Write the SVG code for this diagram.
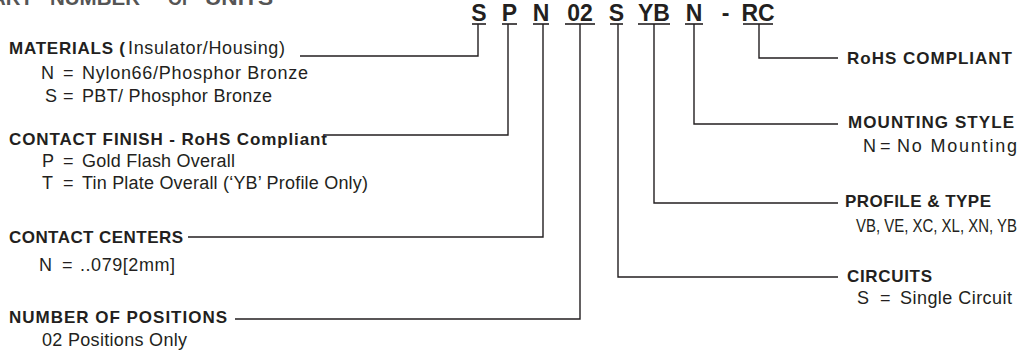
<svg xmlns="http://www.w3.org/2000/svg" width="1029" height="358" viewBox="0 0 1029 358">
<style>
text{font-family:"Liberation Sans",Arial,sans-serif;fill:#231f20}
.h{font-weight:bold;font-size:17px}
.r{font-size:18px}
.code{font-weight:bold;font-size:23px;text-anchor:middle}
.ln{stroke:#231f20;stroke-width:1.4;fill:none}
.ul{stroke:#231f20;stroke-width:1.6}
.t{font-weight:bold;font-size:20px;fill:#555}
</style>
<rect width="1029" height="358" fill="#ffffff"/>
<g id="title">
<text class="t" y="5"><tspan x="-21" textLength="54" lengthAdjust="spacingAndGlyphs">PART</tspan><tspan x="50" textLength="90" lengthAdjust="spacingAndGlyphs">NUMBER</tspan><tspan x="168" textLength="25" lengthAdjust="spacingAndGlyphs">OF</tspan><tspan x="205" textLength="68" lengthAdjust="spacingAndGlyphs">UNITS</tspan></text>
</g>
<g id="code">
<text class="code" x="479" y="21">S</text>
<text class="code" x="509.5" y="21">P</text>
<text class="code" x="541" y="21">N</text>
<text class="code" x="580" y="21">02</text>
<text class="code" x="616.5" y="21">S</text>
<text class="code" x="654" y="21">YB</text>
<text class="code" x="694" y="21">N</text>
<text class="code" x="725.5" y="21">-</text>
<text class="code" x="758" y="21">RC</text>
<line class="ul" x1="472" y1="24" x2="486" y2="24"/>
<line class="ul" x1="502" y1="24" x2="517" y2="24"/>
<line class="ul" x1="533" y1="24" x2="549" y2="24"/>
<line class="ul" x1="565" y1="24" x2="595" y2="24"/>
<line class="ul" x1="610" y1="24" x2="623" y2="24"/>
<line class="ul" x1="638" y1="24" x2="670" y2="24"/>
<line class="ul" x1="685" y1="24" x2="703" y2="24"/>
<line class="ul" x1="743" y1="24" x2="773" y2="24"/>
</g>
<g id="connectors">
<polyline class="ln" points="478,24 478,56 300,56"/>
<polyline class="ln" points="508,24 508,135 325,135"/>
<polyline class="ln" points="543,24 543,237 188,237"/>
<polyline class="ln" points="580,24 580,319 235,319"/>
<polyline class="ln" points="618,24 618,277 838,277"/>
<polyline class="ln" points="654,24 654,203 838,203"/>
<polyline class="ln" points="694,24 694,124 838,124"/>
<polyline class="ln" points="759,24 759,58 838,58"/>
</g>
<g id="materials">
<text class="h" x="9" y="54" textLength="116">MATERIALS (</text>
<text class="r" x="128" y="54" textLength="157">Insulator/Housing)</text>
<text class="r" x="41" y="79">N</text><text class="r" x="63" y="79">=</text>
<text class="r" x="82" y="79" textLength="226">Nylon66/Phosphor Bronze</text>
<text class="r" x="45" y="102">S</text><text class="r" x="63" y="102">=</text>
<text class="r" x="82" y="102" textLength="190">PBT/ Phosphor Bronze</text>
</g>
<g id="contact-finish">
<text class="h" x="9" y="145" textLength="318">CONTACT FINISH - RoHS Compliant</text>
<text class="r" x="42" y="167">P</text><text class="r" x="63" y="167">=</text>
<text class="r" x="82" y="167" textLength="153">Gold Flash Overall</text>
<text class="r" x="42" y="189">T</text><text class="r" x="63" y="189">=</text>
<text class="r" x="82" y="189" textLength="286">Tin Plate Overall (‘YB’ Profile Only)</text>
</g>
<g id="contact-centers">
<text class="h" x="9" y="243" textLength="174">CONTACT CENTERS</text>
<text class="r" x="39" y="271">N</text><text class="r" x="62" y="271">=</text>
<text class="r" x="80" y="271" textLength="95">..079[2mm]</text>
</g>
<g id="positions">
<text class="h" x="9" y="323" textLength="218">NUMBER OF POSITIONS</text>
<text class="r" x="42" y="346" textLength="145">02 Positions Only</text>
</g>
<g id="rohs">
<text class="h" x="847" y="64" textLength="165">RoHS COMPLIANT</text>
</g>
<g id="mounting">
<text class="h" x="848" y="128" textLength="166">MOUNTING STYLE</text>
<text class="r" x="863" y="152">N</text><text class="r" x="880" y="152">=</text>
<text class="r" x="897" y="152" textLength="120">No Mounting</text>
</g>
<g id="profile">
<text class="h" x="845" y="207" textLength="146">PROFILE &amp; TYPE</text>
<text class="r" x="856" y="232" textLength="161" lengthAdjust="spacingAndGlyphs">VB, VE, XC, XL, XN, YB</text>
</g>
<g id="circuits">
<text class="h" x="847" y="282" textLength="85">CIRCUITS</text>
<text class="r" x="857" y="304">S</text><text class="r" x="880" y="304">=</text>
<text class="r" x="900" y="304" textLength="112">Single Circuit</text>
</g>
</svg>
